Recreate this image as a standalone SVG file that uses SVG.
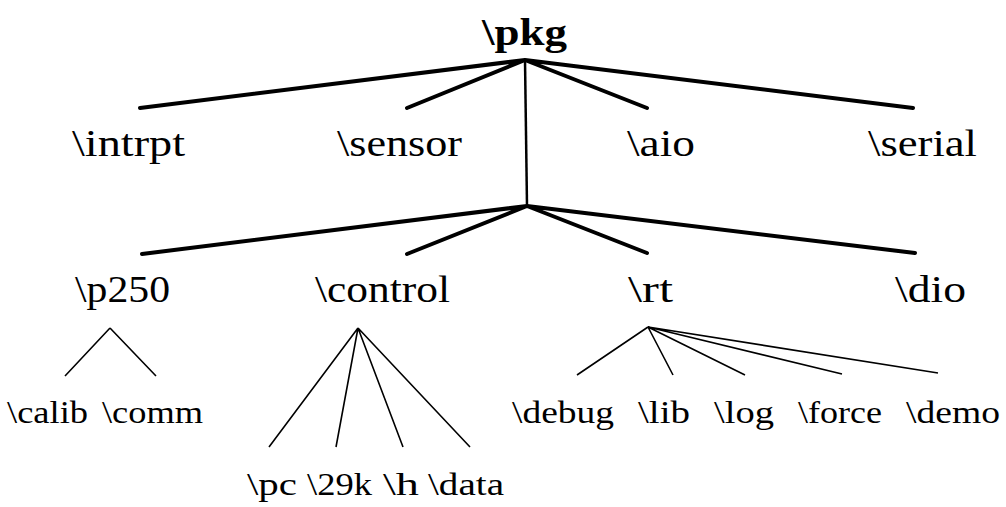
<svg xmlns="http://www.w3.org/2000/svg" width="1006" height="507" viewBox="0 0 1006 507">
<style>
text{font-family:"Liberation Serif","DejaVu Serif",serif;fill:#000}
.root{font-size:38px;font-weight:bold}
.l1{font-size:38px}
.l3{font-size:32px}
.thick{stroke:#000;stroke-width:4;stroke-linecap:round;fill:none}
.mid{stroke:#000;stroke-width:2.5;fill:none}
.thin{stroke:#000;stroke-width:1.6;fill:none}
</style>
<rect width="1006" height="507" fill="#fff"/>
<g id="connectors">
<path class="thick" d="M525 60L140 108M525 60L407 108M525 60L647 108M525 60L913 108"/>
<path class="mid" d="M525 60L527 206"/>
<path class="thick" d="M527 206L142 254M527 206L407 254M527 206L647 253M527 206L915 253"/>
<path class="thin" d="M110 328L65 376M110 328L156 376"/>
<path class="thin" d="M358 328L269 447M358 328L336 447M358 328L403 447M358 328L470 447"/>
<path class="thin" d="M648 327L577 375M648 327L673 375M648 327L745 375M648 327L842 374M648 327L938 373"/>
</g>
<g id="pkg"><text class="root" x="482" y="45" textLength="85" lengthAdjust="spacingAndGlyphs">\pkg</text></g>
<g id="intrpt"><text class="l1" x="72" y="156" textLength="113" lengthAdjust="spacingAndGlyphs">\intrpt</text></g>
<g id="sensor"><text class="l1" x="337" y="156" textLength="125" lengthAdjust="spacingAndGlyphs">\sensor</text></g>
<g id="aio"><text class="l1" x="627" y="156" textLength="68" lengthAdjust="spacingAndGlyphs">\aio</text></g>
<g id="serial"><text class="l1" x="868" y="156" textLength="109" lengthAdjust="spacingAndGlyphs">\serial</text></g>
<g id="p250"><text class="l1" x="75" y="302" textLength="95" lengthAdjust="spacingAndGlyphs">\p250</text></g>
<g id="control"><text class="l1" x="315" y="302" textLength="135" lengthAdjust="spacingAndGlyphs">\control</text></g>
<g id="rt"><text class="l1" x="628" y="302" textLength="45" lengthAdjust="spacingAndGlyphs">\rt</text></g>
<g id="dio"><text class="l1" x="895" y="302" textLength="71" lengthAdjust="spacingAndGlyphs">\dio</text></g>
<g id="calib"><text class="l3" x="7" y="423" textLength="81" lengthAdjust="spacingAndGlyphs">\calib</text></g>
<g id="comm"><text class="l3" x="102" y="423" textLength="101" lengthAdjust="spacingAndGlyphs">\comm</text></g>
<g id="pc"><text class="l3" x="247" y="495" textLength="50" lengthAdjust="spacingAndGlyphs">\pc</text></g>
<g id="k29"><text class="l3" x="307" y="495" textLength="65" lengthAdjust="spacingAndGlyphs">\29k</text></g>
<g id="h"><text class="l3" x="383" y="495" textLength="36" lengthAdjust="spacingAndGlyphs">\h</text></g>
<g id="data"><text class="l3" x="428" y="495" textLength="76" lengthAdjust="spacingAndGlyphs">\data</text></g>
<g id="debug"><text class="l3" x="512" y="423" textLength="102" lengthAdjust="spacingAndGlyphs">\debug</text></g>
<g id="lib"><text class="l3" x="638" y="423" textLength="52" lengthAdjust="spacingAndGlyphs">\lib</text></g>
<g id="log"><text class="l3" x="714" y="423" textLength="60" lengthAdjust="spacingAndGlyphs">\log</text></g>
<g id="force"><text class="l3" x="798" y="423" textLength="84" lengthAdjust="spacingAndGlyphs">\force</text></g>
<g id="demo"><text class="l3" x="906" y="423" textLength="94" lengthAdjust="spacingAndGlyphs">\demo</text></g>
</svg>
